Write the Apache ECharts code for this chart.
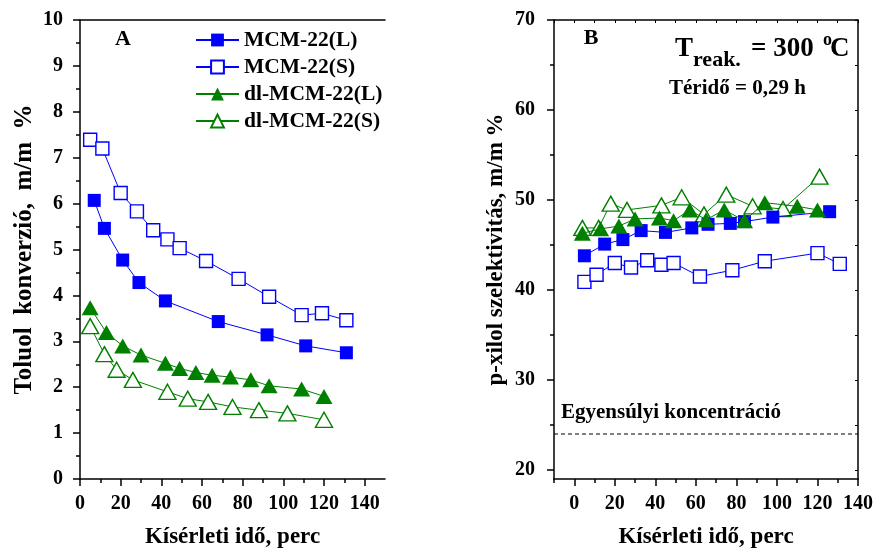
<!DOCTYPE html>
<html><head><meta charset="utf-8">
<script src="https://cdn.jsdelivr.net/npm/echarts@6/dist/echarts.min.js"></script>
<style>html,body{margin:0;padding:0;background:#fff}#c{width:877px;height:554px}</style>
</head><body><div id="c"></div>
<script>
// ---- legend / series names
const seriesNames = ['MCM-22(L)', 'MCM-22(S)', 'dl-MCM-22(L)', 'dl-MCM-22(S)'];

// ---- Panel A: toluene conversion (m/m %) vs time (min)
const convTimeMcmL = [7, 12, 21, 29, 42, 68, 92, 111, 131];
const convMcmL     = [6.07, 5.46, 4.77, 4.28, 3.88, 3.43, 3.14, 2.90, 2.75];
const convTimeMcmS = [5, 11, 20, 28, 36, 43, 49, 62, 78, 93, 109, 119, 131];
const convMcmS     = [7.39, 7.20, 6.23, 5.83, 5.42, 5.22, 5.03, 4.75, 4.36, 3.97, 3.57, 3.61, 3.46];
const convTimeDlL  = [5, 13, 21, 30, 42, 49, 57, 65, 74, 84, 93, 109, 120];
const convDlL      = [3.73, 3.19, 2.90, 2.70, 2.52, 2.41, 2.32, 2.26, 2.22, 2.16, 2.03, 1.96, 1.80];
const convTimeDlS  = [5, 12, 18, 26, 43, 53, 63, 75, 88, 102, 120];
const convDlS      = [3.33, 2.72, 2.38, 2.16, 1.90, 1.75, 1.68, 1.57, 1.50, 1.43, 1.29];

// ---- Panel B: p-xylene selectivity (m/m %) vs time (min)
const selTimeMcmL = [5, 15, 24, 33, 45, 58, 66, 77, 84, 98, 126];
const selMcmL     = [43.8, 45.1, 45.6, 46.6, 46.4, 46.9, 47.3, 47.4, 47.6, 48.1, 48.7];
const selTimeMcmS = [5, 11, 20, 28, 36, 43, 49, 62, 78, 94, 120, 131];
const selMcmS     = [40.9, 41.7, 43.0, 42.5, 43.3, 42.8, 43.0, 41.5, 42.2, 43.2, 44.1, 42.9];
const selTimeDlL  = [4, 13, 22, 30, 42, 49, 57, 65, 74, 84, 94, 110, 120];
const selDlL      = [46.3, 46.8, 47.1, 47.9, 48.0, 47.7, 48.9, 47.8, 48.9, 47.7, 49.7, 49.3, 48.9];
const selTimeDlS  = [4, 12, 18, 26, 43, 53, 64, 75, 88, 103, 121];
const selDlS      = [46.9, 46.9, 49.6, 48.9, 49.4, 50.3, 48.4, 50.6, 49.3, 49.0, 52.6];
const equilibriumX = [-10, 140];
const equilibriumY = [24, 24];

// ---- tick values
const xTickLabels   = [0, 20, 40, 60, 80, 100, 120, 140];
const xMinorTicksA  = [0, 10, 20, 30, 40, 50, 60, 70, 80, 90, 100, 110, 120, 130, 140];
const xMinorTicksB  = [-10, 10, 30, 50, 70, 90, 110, 130];
const xTopTicksB    = [-10, 0, 10, 20, 30, 40, 50, 60, 70, 80, 90, 100, 110, 120, 130, 140];
const yTickLabelsB  = [20, 30, 40, 50, 60, 70];
const yMinorTicksB  = [25, 35, 45, 55, 65];
const yRightTicksB  = [20, 25, 30, 35, 40, 45, 50, 55, 60, 65, 70];

const F = '"Liberation Serif","Times New Roman",serif';
const BLUE = '#0000ff', GREEN = '#008000';
const lineS = {color: '#000', width: 1.5};
const labelS = {color: '#000', fontFamily: F, fontWeight: 'bold', fontSize: 20};
const nameS = {color: '#000', fontFamily: F, fontWeight: 'bold', fontSize: 23};

function mk(name, xs, ys, shape, filled, xi, yi, z) {
  const color = shape === 'rect' ? BLUE : GREEN;
  return {
    name, type: 'line', xAxisIndex: xi, yAxisIndex: yi, z,
    data: xs.map((x, i) => [x, ys[i]]),
    symbol: shape,
    symbolSize: shape === 'rect' ? [13, 13] : [17, 15],
    showSymbol: true, showAllSymbol: true,
    lineStyle: {color, width: 1},
    itemStyle: filled ? {color, borderWidth: 0} : {color: '#fff', borderColor: color, borderWidth: 1.4},
    emphasis: {disabled: true},
    animation: false
  };
}

const series = [
  mk(seriesNames[1], convTimeMcmS, convMcmS, 'rect', false, 0, 0, 2),
  mk(seriesNames[3], convTimeDlS, convDlS, 'triangle', false, 0, 0, 2),
  mk(seriesNames[0], convTimeMcmL, convMcmL, 'rect', true, 0, 0, 3),
  mk(seriesNames[2], convTimeDlL, convDlL, 'triangle', true, 0, 0, 3),
  mk(seriesNames[1], selTimeMcmS, selMcmS, 'rect', false, 3, 1, 2),
  mk(seriesNames[3], selTimeDlS, selDlS, 'triangle', false, 3, 1, 2),
  mk(seriesNames[0], selTimeMcmL, selMcmL, 'rect', true, 3, 1, 3),
  mk(seriesNames[2], selTimeDlL, selDlL, 'triangle', true, 3, 1, 4),
  {
    name: 'equilibrium', type: 'line', xAxisIndex: 3, yAxisIndex: 1,
    data: equilibriumX.map((x, i) => [x, equilibriumY[i]]),
    symbol: 'none', lineStyle: {color: '#000', width: 1, type: [4, 3]},
    animation: false, silent: true
  }
];

const chart = echarts.init(document.getElementById('c'), null, {renderer: 'canvas'});
chart.setOption({
  animation: false,
  backgroundColor: '#fff',
  grid: [
    {left: 80, top: 20, width: 305, height: 460},
    {left: 554, top: 20, width: 304, height: 460}
  ],
  legend: {
    data: seriesNames, orient: 'vertical', left: 190, top: 24,
    itemWidth: 43, itemHeight: 16, itemGap: 5,
    textStyle: {color: '#000', fontFamily: F, fontWeight: 'bold', fontSize: 21.5, lineHeight: 21},
    selectedMode: false
  },
  xAxis: [
    {gridIndex: 0, type: 'value', min: 0, max: 150, position: 'bottom',
     axisLine: {show: true, onZero: false, lineStyle: lineS},
     axisTick: {show: true, length: 4, customValues: xMinorTicksA, lineStyle: lineS},
     axisLabel: {customValues: xTickLabels, margin: 15, ...labelS},
     splitLine: {show: false},
     name: 'Kísérleti idő, perc', nameLocation: 'middle', nameGap: 47, nameTextStyle: nameS},
    {gridIndex: 0, type: 'value', min: 0, max: 150, position: 'bottom',
     axisLine: {show: false, onZero: false},
     axisTick: {show: true, length: 7, customValues: xTickLabels, lineStyle: lineS},
     axisLabel: {show: false}, splitLine: {show: false}},
    {gridIndex: 0, type: 'value', min: 0, max: 150, position: 'top',
     axisLine: {show: true, onZero: false, lineStyle: lineS},
     axisTick: {show: false}, axisLabel: {show: false}, splitLine: {show: false}},
    {gridIndex: 1, type: 'value', min: -10, max: 140, position: 'bottom',
     axisLine: {show: true, onZero: false, lineStyle: lineS},
     axisTick: {show: true, length: 4, customValues: xMinorTicksB, lineStyle: lineS},
     axisLabel: {customValues: xTickLabels, margin: 15, ...labelS},
     splitLine: {show: false},
     name: 'Kísérleti idő, perc', nameLocation: 'middle', nameGap: 47, nameTextStyle: nameS},
    {gridIndex: 1, type: 'value', min: -10, max: 140, position: 'bottom',
     axisLine: {show: false, onZero: false},
     axisTick: {show: true, length: 7, customValues: xTickLabels, lineStyle: lineS},
     axisLabel: {show: false}, splitLine: {show: false}},
    {gridIndex: 1, type: 'value', min: -10, max: 140, position: 'top',
     axisLine: {show: true, onZero: false, lineStyle: lineS},
     axisTick: {show: true, inside: true, length: 3, customValues: xTopTicksB, lineStyle: {color: '#000', width: 1}},
     axisLabel: {show: false}, splitLine: {show: false}}
  ],
  yAxis: [
    {gridIndex: 0, type: 'value', min: 0, max: 10, interval: 1, position: 'left',
     axisLine: {show: true, onZero: false, lineStyle: lineS},
     axisTick: {show: true, length: 7, lineStyle: lineS},
     minorTick: {show: true, splitNumber: 2, length: 4, lineStyle: lineS},
     axisLabel: {margin: 17, ...labelS},
     splitLine: {show: false}, minorSplitLine: {show: false},
     name: 'Toluol  konverzió,  m/m  %', nameLocation: 'middle', nameGap: 43,
     nameTextStyle: {...nameS, fontSize: 25}},
    {gridIndex: 1, type: 'value', min: 19, max: 70, position: 'left',
     axisLine: {show: true, onZero: false, lineStyle: lineS},
     axisTick: {show: true, length: 7, customValues: yTickLabelsB, lineStyle: lineS},
     axisLabel: {customValues: yTickLabelsB, margin: 19, ...labelS},
     splitLine: {show: false},
     name: 'p-xilol szelektivitás, m/m %', nameLocation: 'middle', nameGap: 46, nameTextStyle: nameS},
    {gridIndex: 1, type: 'value', min: 19, max: 70, position: 'left',
     axisLine: {show: false, onZero: false},
     axisTick: {show: true, length: 4, customValues: yMinorTicksB, lineStyle: lineS},
     axisLabel: {show: false}, splitLine: {show: false}},
    {gridIndex: 1, type: 'value', min: 19, max: 70, position: 'right',
     axisLine: {show: true, onZero: false, lineStyle: lineS},
     axisTick: {show: true, inside: true, length: 3, customValues: yRightTicksB, lineStyle: {color: '#000', width: 1}},
     axisLabel: {show: false}, splitLine: {show: false}}
  ],
  graphic: [
    {type: 'text', x: 123, y: 39, style: {text: 'A', font: 'bold 22px ' + F, fill: '#000', textAlign: 'center', textVerticalAlign: 'middle', align: 'center', verticalAlign: 'middle'}},
    {type: 'text', x: 591, y: 38, style: {text: 'B', font: 'bold 22px ' + F, fill: '#000', textAlign: 'center', textVerticalAlign: 'middle', align: 'center', verticalAlign: 'middle'}},
    {type: 'text', x: 675, y: 49, style: {text: 'T', font: 'bold 27px ' + F, fill: '#000', textAlign: 'left', textVerticalAlign: 'middle', align: 'left', verticalAlign: 'middle'}},
    {type: 'text', x: 693, y: 60, style: {text: 'reak.', font: 'bold 22px ' + F, fill: '#000', textAlign: 'left', textVerticalAlign: 'middle', align: 'left', verticalAlign: 'middle'}},
    {type: 'text', x: 751, y: 49, style: {text: '= 300', font: 'bold 27px ' + F, fill: '#000', textAlign: 'left', textVerticalAlign: 'middle', align: 'left', verticalAlign: 'middle'}},
    {type: 'text', x: 823, y: 40, style: {text: 'o', font: 'bold 18px ' + F, fill: '#000', textAlign: 'left', textVerticalAlign: 'middle', align: 'left', verticalAlign: 'middle'}},
    {type: 'text', x: 830, y: 49, style: {text: 'C', font: 'bold 27px ' + F, fill: '#000', textAlign: 'left', textVerticalAlign: 'middle', align: 'left', verticalAlign: 'middle'}},
    {type: 'text', x: 669, y: 89, style: {text: 'Téridő = 0,29 h', font: 'bold 21px ' + F, fill: '#000', textAlign: 'left', textVerticalAlign: 'middle', align: 'left', verticalAlign: 'middle'}},
    {type: 'text', x: 561, y: 413, style: {text: 'Egyensúlyi koncentráció', font: 'bold 21px ' + F, fill: '#000', textAlign: 'left', textVerticalAlign: 'middle', align: 'left', verticalAlign: 'middle'}}
  ],
  series
});
</script>
</body></html>
